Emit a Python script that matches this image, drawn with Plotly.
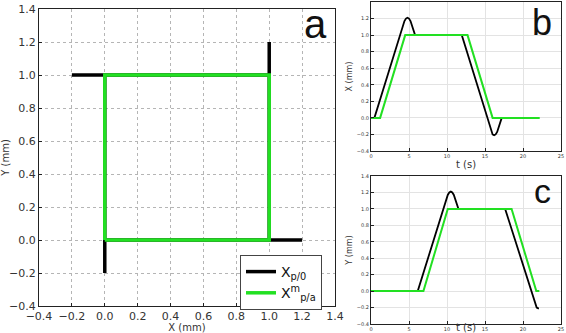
import plotly.graph_objects as go

# Panel a: trajectory in the XY plane (mm)
a_black_x = [0.0, 1.2, 1.0, 1.0, 1.0, -0.2, 0.0, 0.0, 0.0]
a_black_y = [0.0, 0.0, 0.0, 1.2, 1.0, 1.0, 1.0, -0.2, 0.0]
a_green_x = [0.0, 1.0, 1.0, 0.0, 0.0]
a_green_y = [0.0, 0.0, 1.0, 1.0, 0.0]

# Panel b: X vs time
b_black_t = [0.0, 0.45, 4.4, 4.6, 4.8, 5.0, 5.2, 5.8, 11.95, 15.8, 16.0, 16.2, 16.4, 16.6, 17.2]
b_black_x = [0.0, 0.0, 1.17, 1.2, 1.21, 1.2, 1.17, 1.0, 1.0, -0.17, -0.2, -0.21, -0.2, -0.17, 0.0]
b_green_t = [0.0, 1.2, 4.5, 12.7, 16.0, 22.2]
b_green_x = [0.0, 0.0, 1.0, 1.0, 0.0, 0.0]

# Panel c: Y vs time
c_black_t = [0.0, 6.15, 10.1, 10.3, 10.5, 10.7, 10.9, 11.5, 17.65, 21.6, 21.8, 22.0, 22.1]
c_black_y = [0.0, 0.0, 1.17, 1.2, 1.21, 1.2, 1.17, 1.0, 1.0, -0.16, -0.2, -0.21, -0.21]
c_green_t = [0.0, 6.9, 10.1, 18.5, 21.75, 22.15]
c_green_y = [0.0, 0.0, 1.0, 1.0, 0.0, 0.0]

BLACK = "#000000"
GREEN = "#22e022"
FONT = "DejaVu Sans"
LFONT = "Liberation Sans"

fig = go.Figure()
fig.add_trace(go.Scatter(x=a_black_x, y=a_black_y, mode="lines",
                         line=dict(color=BLACK, width=3.5), name="X<sub>p/0</sub>",
                         xaxis="x", yaxis="y"))
fig.add_trace(go.Scatter(x=a_green_x, y=a_green_y, mode="lines",
                         line=dict(color=GREEN, width=3.5), name="X<sup>m</sup><sub>p/a</sub>",
                         xaxis="x", yaxis="y"))
fig.add_trace(go.Scatter(x=b_black_t, y=b_black_x, mode="lines", line=dict(color=BLACK, width=1.8),
                         showlegend=False, xaxis="x2", yaxis="y2"))
fig.add_trace(go.Scatter(x=b_green_t, y=b_green_x, mode="lines", line=dict(color=GREEN, width=2),
                         showlegend=False, xaxis="x2", yaxis="y2"))
fig.add_trace(go.Scatter(x=c_black_t, y=c_black_y, mode="lines", line=dict(color=BLACK, width=1.8),
                         showlegend=False, xaxis="x3", yaxis="y3"))
fig.add_trace(go.Scatter(x=c_green_t, y=c_green_y, mode="lines", line=dict(color=GREEN, width=2),
                         showlegend=False, xaxis="x3", yaxis="y3"))

W, H = 566, 333

def dom_x(l, r):
    return [l / W, r / W]

def dom_y(t, b):
    return [(H - b) / H, (H - t) / H]

def ax(domain, rng, dtick, fsize, fmt, title, tsize, anchor, standoff, grid, gdash):
    return dict(domain=domain, range=rng, dtick=dtick, tick0=rng[0], tickformat=fmt,
                showline=True, mirror=True, linecolor="#222", linewidth=1,
                ticks="inside", ticklen=3, tickcolor="#222", automargin=False,
                showgrid=True, gridcolor=grid, griddash=gdash, gridwidth=1,
                zeroline=False, tickfont=dict(size=fsize, color="#333", family=FONT),
                title=dict(text=title, font=dict(size=tsize, color="#333", family=FONT), standoff=standoff),
                anchor=anchor)

fig.update_layout(
    width=W, height=H, margin=dict(l=0, r=0, t=0, b=0),
    plot_bgcolor="white", paper_bgcolor="white",
    font=dict(family=FONT),
    xaxis=ax(dom_x(39, 335), [-0.4, 1.4], 0.2, 11, ".1f", "X (mm)", 10, "y", 2, "#b5b5b5", "dot"),
    yaxis=ax(dom_y(9, 306), [-0.4, 1.4], 0.2, 11, ".1f", "Y (mm)", 10, "x", 4, "#b5b5b5", "dot"),
    xaxis2=ax(dom_x(371, 561), [0, 25], 5, 5, "d", "t (s)", 10, "y2", 2, "#e3e3e3", "solid"),
    yaxis2=ax(dom_y(2, 151), [-0.4, 1.4], 0.2, 5, ".1f", "X (mm)", 8, "x2", 3, "#e3e3e3", "solid"),
    xaxis3=ax(dom_x(371, 561), [0, 25], 5, 5, "d", "t (s)", 10, "y3", 2, "#e3e3e3", "solid"),
    yaxis3=ax(dom_y(176, 324), [-0.4, 1.4], 0.2, 5, ".1f", "Y (mm)", 8, "x3", 3, "#e3e3e3", "solid"),
    legend=dict(x=322 / W, y=(H - 255) / H, xanchor="right", yanchor="top",
                bgcolor="white", bordercolor="#444", borderwidth=1, itemwidth=30,
                font=dict(size=14, color="#111", family=FONT), tracegroupgap=0),
    annotations=[
        dict(text="a", x=329 / W, y=1.0, xref="paper", yref="paper", xanchor="right", yanchor="top",
             showarrow=False, font=dict(size=40, color="#111", family=LFONT)),
        dict(text="b", x=554 / W, y=1.0, xref="paper", yref="paper", xanchor="right", yanchor="top",
             showarrow=False, font=dict(size=36, color="#111", family=LFONT)),
        dict(text="c", x=553 / W, y=(H - 170) / H, xref="paper", yref="paper", xanchor="right", yanchor="top",
             showarrow=False, font=dict(size=34, color="#111", family=LFONT)),
    ],
)

fig.write_html("out.html")
